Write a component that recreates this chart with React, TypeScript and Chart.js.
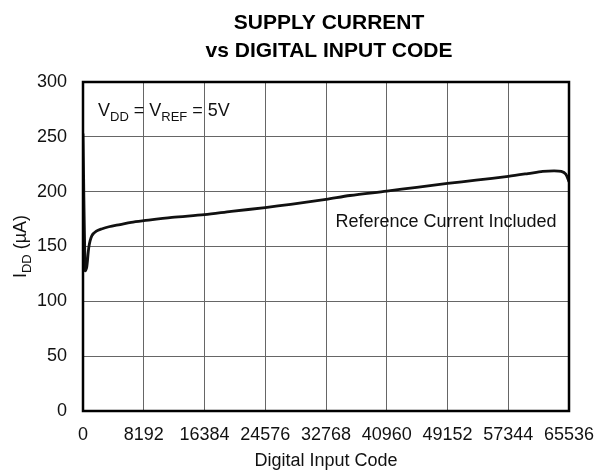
import React, { useEffect, useRef } from "react";
import { Chart, registerables } from "chart.js";

Chart.register(...registerables);

const titleLines = ["SUPPLY CURRENT", "vs DIGITAL INPUT CODE"];
const xTicks = [0, 8192, 16384, 24576, 32768, 40960, 49152, 57344, 65536];
const yTicks = [0, 50, 100, 150, 200, 250, 300];
const codes = [0, 300, 500, 800, 1200, 1800, 2500, 3500, 5000, 6500, 8192, 12000, 16384, 20000, 24576, 28000, 32768, 36000, 40960, 45000, 49152, 53000, 57344, 60000, 62000, 63500, 64500, 65100, 65536];
const currents = [253, 128, 131, 150, 160, 164, 166, 168, 170, 172, 173.5, 176.5, 179, 182, 185.5, 188.5, 193, 196.5, 200.5, 204, 207.5, 210.5, 214, 216.5, 218.5, 219, 218.5, 216, 209];
const noteText = "Reference Current Included";
const xTitle = "Digital Input Code";

const FONT = "'Liberation Sans', Arial, Helvetica, sans-serif";
const FS = 18;

function drawSub(ctx: CanvasRenderingContext2D, parts: [string, boolean][], x: number, y: number, size: number) {
  let cx = x;
  for (const [t, sub] of parts) {
    ctx.font = `${sub ? Math.round(size * 0.72) : size}px ${FONT}`;
    ctx.fillText(t, cx, sub ? y + size * 0.28 : y);
    cx += ctx.measureText(t).width;
  }
  return cx - x;
}

function measureSub(ctx: CanvasRenderingContext2D, parts: [string, boolean][], size: number) {
  let w = 0;
  for (const [t, sub] of parts) {
    ctx.font = `${sub ? Math.round(size * 0.72) : size}px ${FONT}`;
    w += ctx.measureText(t).width;
  }
  return w;
}

const decor = {
  id: "decor",
  afterDatasetsDraw(chart: any) {
    const ctx = chart.ctx as CanvasRenderingContext2D;
    const a = chart.chartArea;
    ctx.save();
    ctx.strokeStyle = "#000";
    ctx.lineWidth = 2.5;
    ctx.strokeRect(a.left, a.top, a.right - a.left, a.bottom - a.top);
    ctx.fillStyle = "#000";
    ctx.textBaseline = "alphabetic";
    // Title
    ctx.font = `bold 21px ${FONT}`;
    ctx.textAlign = "center";
    const cx = (a.left + a.right) / 2 + 3;
    ctx.fillText(titleLines[0], cx, 29);
    ctx.fillText(titleLines[1], cx, 57);
    // VDD annotation
    ctx.fillStyle = "#111";
    ctx.textAlign = "left";
    drawSub(ctx, [["V", false], ["DD", true], [" = V", false], ["REF", true], [" = 5V", false]], 98, 116, FS);
    // note
    ctx.font = `${FS}px ${FONT}`;
    ctx.textAlign = "center";
    ctx.fillText(noteText, 446, 227);
    // x title
    ctx.fillText(xTitle, (a.left + a.right) / 2, 466);
    // y title
    ctx.save();
    ctx.translate(26, (a.top + a.bottom) / 2);
    ctx.rotate(-Math.PI / 2);
    ctx.textAlign = "left";
    const yparts: [string, boolean][] = [["I", false], ["DD", true], [" (\u00B5A)", false]];
    const w = measureSub(ctx, yparts, FS);
    drawSub(ctx, yparts, -w / 2, 0, FS);
    ctx.restore();
    ctx.restore();
  },
};

export default function App() {
  const ref = useRef<HTMLCanvasElement>(null);
  useEffect(() => {
    document.body.style.margin = "0";
    const chart = new Chart(ref.current!, {
      type: "line",
      data: {
        datasets: [
          {
            data: codes.map((c, i) => ({ x: c, y: currents[i] })),
            borderColor: "#111",
            borderWidth: 2.8,
            pointRadius: 0,
            tension: 0.3,
            fill: false,
          },
        ],
      },
      options: {
        animation: false,
        responsive: false,
        devicePixelRatio: 1,
        layout: { padding: { top: 82, right: 29, left: 0, bottom: 0 } },
        plugins: { legend: { display: false }, title: { display: false }, tooltip: { enabled: false } },
        scales: {
          x: {
            type: "linear",
            min: 0,
            max: 65536,
            afterBuildTicks: (s: any) => {
              s.ticks = xTicks.map((v) => ({ value: v }));
            },
            afterFit: (s: any) => {
              s.height = 60;
              s.paddingLeft = 0;
              s.paddingRight = 0;
            },
            ticks: { color: "#111", font: { family: FONT, size: FS }, padding: 13, maxRotation: 0, autoSkip: false, callback: (v: any) => String(v) },
            grid: { color: "#666", lineWidth: 1, drawTicks: false },
            border: { display: false },
          },
          y: {
            min: 0,
            max: 300,
            afterBuildTicks: (s: any) => {
              s.ticks = yTicks.map((v) => ({ value: v }));
            },
            afterFit: (s: any) => {
              s.width = 83;
              s.paddingTop = 0;
              s.paddingBottom = 0;
            },
            ticks: { color: "#111", font: { family: FONT, size: FS }, padding: 16 },
            grid: { color: "#666", lineWidth: 1, drawTicks: false },
            border: { display: false },
          },
        },
      },
      plugins: [decor],
    });
    return () => chart.destroy();
  }, []);
  return <canvas ref={ref} width={598} height={471} style={{ display: "block", background: "#fff" }} />;
}
